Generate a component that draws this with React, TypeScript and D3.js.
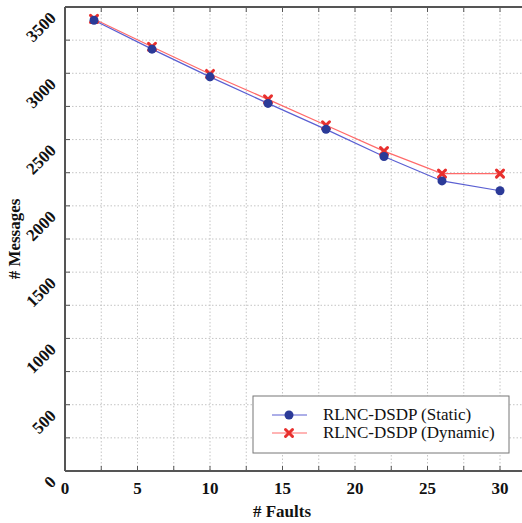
import React from "react";
import * as d3 from "d3";

const faults = [2, 6, 10, 14, 18, 22, 26, 30];
const staticMsgs = [3400, 3182, 2973, 2773, 2577, 2372, 2188, 2114];
const dynamicMsgs = [3410, 3200, 2995, 2803, 2608, 2413, 2243, 2243];
const xTicks = [0, 5, 10, 15, 20, 25, 30];
const yTicks = [0, 500, 1000, 1500, 2000, 2500, 3000, 3500];
const seriesNames = ["RLNC-DSDP (Static)", "RLNC-DSDP (Dynamic)"];

const serif = "Times New Roman, Liberation Serif, Tinos, DejaVu Serif, serif";

export default function App() {
  const width = 522;
  const height = 523;
  const left = 65;
  const top = 7;
  const bottom = 471;

  const x = d3.scaleLinear().domain([0, 32]).range([left, left + 32 * 14.5]);
  const y = d3.scaleLinear().domain([0, 3500]).range([bottom, top]);

  const gridX = d3.range(0, 32.1, 2.5);
  const gridY = d3.range(0, 3501, 250);

  const line = d3
    .line<number>()
    .x((_, i) => x(faults[i]))
    .y((d) => y(d));

  const blueLine = "#5a5fd2";
  const blueDot = "#2b3a98";
  const redLine = "#ff6a6a";
  const redMark = "#e8302e";
  const axisColor = "#555";

  const cross = (cx: number, cy: number, key: string | number) => (
    <g key={key} stroke={redMark} strokeWidth={3} strokeLinecap="round">
      <line x1={cx - 3.5} y1={cy - 3.5} x2={cx + 3.5} y2={cy + 3.5} />
      <line x1={cx - 3.5} y1={cy + 3.5} x2={cx + 3.5} y2={cy - 3.5} />
    </g>
  );

  const plotRight = x(32);

  return (
    <svg
      width={width}
      height={height}
      fontFamily={serif}
      fill="#111"
      style={{ position: "absolute", left: 0, top: 0, background: "#fff" }}
    >
      {/* grid */}
      <g stroke="#c4c4c4" strokeWidth={1} strokeDasharray="1.5,2">
        {gridX.slice(1).map((v) => (
          <line key={"gx" + v} x1={x(v)} x2={x(v)} y1={top} y2={bottom} />
        ))}
        {gridY.slice(1, -1).map((v) => (
          <line key={"gy" + v} x1={left} x2={plotRight} y1={y(v)} y2={y(v)} />
        ))}
      </g>

      {/* ticks, inward */}
      <g stroke={axisColor} strokeWidth={1}>
        {gridX.slice(1).map((v) => (
          <g key={"tx" + v}>
            <line x1={x(v)} x2={x(v)} y1={bottom} y2={bottom - 5} />
            <line x1={x(v)} x2={x(v)} y1={top} y2={top + 5} />
          </g>
        ))}
        {gridY.slice(1, -1).map((v) => (
          <line key={"ty" + v} x1={left} x2={left + 5} y1={y(v)} y2={y(v)} />
        ))}
      </g>

      {/* frame */}
      <g stroke={axisColor} strokeWidth={2} fill="none">
        <line x1={left} x2={left} y1={top} y2={bottom} />
        <line x1={left} x2={plotRight} y1={bottom} y2={bottom} />
        <line x1={left} x2={plotRight} y1={top} y2={top} />
      </g>

      {/* series */}
      <path d={line(dynamicMsgs) ?? ""} fill="none" stroke={redLine} strokeWidth={1.2} />
      <path d={line(staticMsgs) ?? ""} fill="none" stroke={blueLine} strokeWidth={1.2} />
      {dynamicMsgs.map((v, i) => cross(x(faults[i]), y(v), "d" + i))}
      {staticMsgs.map((v, i) => (
        <circle key={"s" + i} cx={x(faults[i])} cy={y(v)} r={4.5} fill={blueDot} />
      ))}

      {/* x tick labels */}
      {xTicks.map((v) => (
        <text key={"xl" + v} x={x(v)} y={bottom + 23} textAnchor="middle" fontSize={17} fontWeight="bold">
          {v}
        </text>
      ))}
      {/* y tick labels */}
      {yTicks.map((v) => (
        <text
          key={"yl" + v}
          transform={`translate(${left - 8},${y(v) + 12}) rotate(-45)`}
          textAnchor="end"
          fontSize={17}
          fontWeight="bold"
        >
          {v}
        </text>
      ))}

      <text x={282} y={517} textAnchor="middle" fontSize={17} fontWeight="bold">
        # Faults
      </text>
      <text
        transform={`translate(20,${(top + bottom) / 2}) rotate(-90)`}
        textAnchor="middle"
        fontSize={17}
        fontWeight="bold"
      >
        # Messages
      </text>

      {/* legend */}
      <g>
        <rect x={253} y={396} width={256} height={57} fill="#fff" stroke="#777" strokeWidth={1} />
        <line x1={272} x2={307} y1={415} y2={415} stroke={blueLine} strokeWidth={1.2} />
        <circle cx={289} cy={415} r={4.5} fill={blueDot} />
        <line x1={272} x2={307} y1={433} y2={433} stroke={redLine} strokeWidth={1.2} />
        {cross(289, 433, "lg")}
        <text x={323} y={420} fontSize={17}>
          {seriesNames[0]}
        </text>
        <text x={323} y={438} fontSize={17}>
          {seriesNames[1]}
        </text>
      </g>
    </svg>
  );
}
